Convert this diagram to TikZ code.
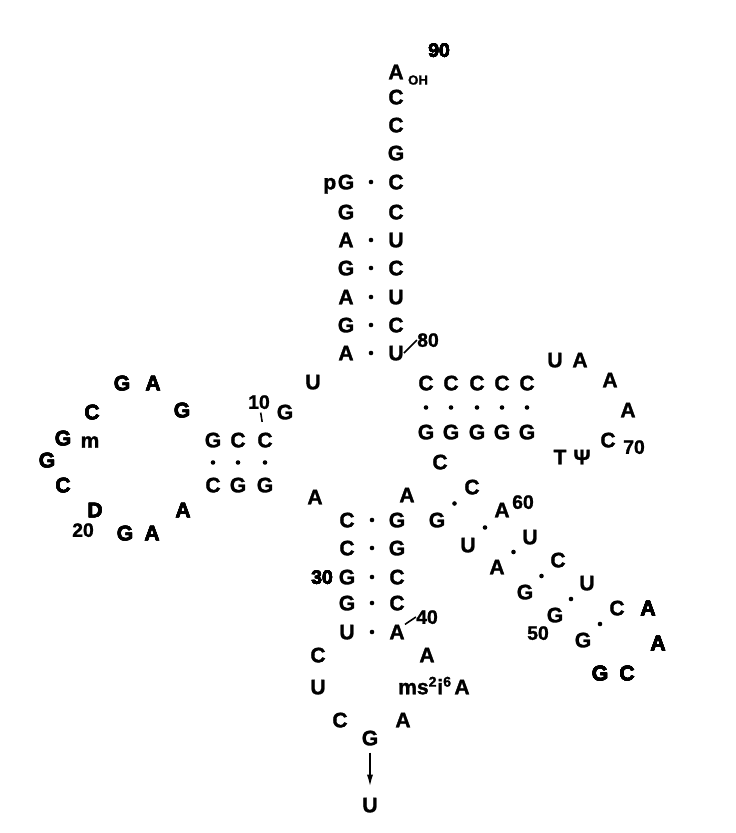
\documentclass[tikz,border=0pt]{standalone}
\usepackage{fontspec}
\setmainfont{Liberation Sans}[BoldFeatures={FakeBold=1.5}]
\usepackage{tikz}
\usetikzlibrary{calc, positioning, arrows.meta}

% base pair dot between two nucleotides
\newcommand{\bp}[2]{\fill ($(#1)!0.5!(#2)$) circle (1.3pt);}

\begin{document}
\begin{tikzpicture}[x=0.02cm, y=-0.02cm,
    nt/.style={font=\bfseries\fontsize{12}{14}\selectfont, inner sep=0pt, text depth=0pt},
    num/.style={font=\bfseries\fontsize{11}{13}\selectfont, inner sep=0pt, text depth=0pt},
    sub/.style={font=\bfseries\fontsize{7.5}{9}\selectfont, inner sep=0pt, text depth=0pt},
    tick/.style={line width=0.9pt}]
    \useasboundingbox (0,0) rectangle (736,833);

    % Acceptor stem
    \foreach \t/\y [count=\i] in {A/72,C/97,C/125,G/153,C/182,C/212,U/240,C/268,U/297,C/325,U/353}
        \node[nt] (r\i) at (396,\y) {\t};
    \foreach \t/\y [count=\i] in {G/182,G/212,A/240,G/268,A/297,G/325,A/353}
        \node[nt] (l\i) at (346,\y) {\t};
    \node[nt, base left=0.5pt of l1] (p5) {p};
    \node[sub] (oh) at (418,80) {OH};
    \foreach \a/\b in {l1/r5, l3/r7, l4/r8, l5/r9, l6/r10, l7/r11} \bp{\a}{\b}
    % Text
    \node[num] (n90) at (439,50) {90};
    \node[num] (n80) at (428,340) {80};
    \draw[tick] (r11.east) -- (n80.west);

    % D arm
    \node[nt] (u8) at (313,382) {U};
    \node[nt] (g10) at (285,412) {G};
    \foreach \t/\x [count=\i] in {G/213,C/238,C/265}
        \node[nt] (dt\i) at (\x,440) {\t};
    \foreach \t/\x [count=\i] in {C/213,G/238,G/265}
        \node[nt] (db\i) at (\x,485) {\t};
    \foreach \i in {1,2,3} \bp{dt\i}{db\i}
    \foreach \t/\x/\y [count=\i] in {G/182/410, A/153/383, G/122/383, C/92/412, G/63/438, G/47/460,
        C/63/485, D/95/510, G/125/533, A/152/533, A/183/510}
        \node[nt] (dl\i) at (\x,\y) {\t};
    \node[nt] (m) at (90,442) {m};
    % Text
    \node[num] (n10) at (259,402) {10};
    \node[num] (n20) at (83,530) {20};
    \draw[tick, shorten <=2pt, shorten >=6pt] (n10) -- (dt3);

    % Anticodon stem
    \node[nt] (a26) at (315,497) {A};
    \foreach \t/\y [count=\i] in {C/520,C/548,G/577,G/603,U/632}
        \node[nt] (al\i) at (347,\y) {\t};
    \foreach \t/\y [count=\i] in {G/520,G/548,C/577,C/603,A/632}
        \node[nt] (ar\i) at (397,\y) {\t};
    \foreach \i in {1,...,5} \bp{al\i}{ar\i}
    \node[num] (n30) at (322,577) {30};
    \node[num] (n40) at (427,617) {40};
    \draw[tick] (ar5.north east) -- (n40.west);

    % Anticodon loop
    \foreach \t/\x/\y [count=\i] in {C/318/655, U/318/687, C/340/720, G/370/738, A/403/720, A/462/687, A/427/655}
        \node[nt] (ac\i) at (\x,\y) {\t};
    \node[nt, base left=1pt of ac6] (ms) {ms\textsuperscript{2}i\textsuperscript{6}};
    \node[nt] (u34) at (370,805) {U};
    \draw[line width=1pt, -{Latex[length=7pt,width=3.5pt]}, shorten <=4pt, shorten >=6pt] (ac4) -- (u34);

    % Variable loop and diagonal stem
    \node[nt] (v1) at (407,495) {A};
    \node[nt] (v2) at (440,462) {C};
    \foreach \t/\x/\y [count=\i] in {C/472/487, A/502/510, U/530/537, C/558/560, U/587/583, C/617/608}
        \node[nt] (s\i) at (\x,\y) {\t};
    \foreach \t/\x/\y [count=\i] in {G/437/520, U/468/545, A/497/567, G/525/592, G/555/615, G/583/640}
        \node[nt] (t\i) at (\x,\y) {\t};
    \foreach \i in {1,...,6} \bp{s\i}{t\i}
    \foreach \t/\x/\y [count=\i] in {A/648/608, A/658/643, C/627/673, G/600/673}
        \node[nt] (hl\i) at (\x,\y) {\t};
    \node[num] (n50) at (538,633) {50};
    \node[num] (n60) at (523,502) {60};

    % T arm
    \foreach \x [count=\i] in {426,451,477,502,527} {
        \node[nt] (tt\i) at (\x,383) {C};
        \node[nt] (tb\i) at (\x,432) {G};
        \bp{tt\i}{tb\i}
    }
    \foreach \t/\x/\y [count=\i] in {U/555/360, A/580/360, A/610/380, A/628/410, C/608/440, Ψ/582/457, T/560/457}
        \node[nt] (tl\i) at (\x,\y) {\t};
    \node[num] (n70) at (634,447) {70};
\end{tikzpicture}
\end{document}
